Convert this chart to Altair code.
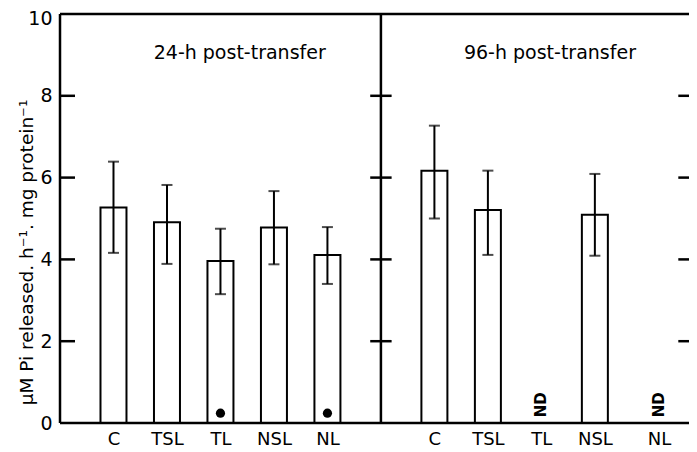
import altair as alt
import pandas as pd

# ---- data ----
categories = ["C", "TSL", "TL", "NSL", "NL"]
panels = ["24-h post-transfer", "96-h post-transfer"]
pos_24 = [1, 2, 3, 4, 5]
pos_96 = [7, 8, 9, 10, 11.2]
mean_24 = [5.27, 4.91, 3.96, 4.78, 4.11]
low_24 = [4.16, 3.89, 3.15, 3.88, 3.40]
high_24 = [6.39, 5.82, 4.75, 5.67, 4.79]
mean_96 = [6.17, 5.21, None, 5.09, None]
low_96 = [5.00, 4.11, None, 4.09, None]
high_96 = [7.27, 6.17, None, 6.09, None]
sig_24 = [False, False, True, False, True]     # filled dot marker
nd_96 = [False, False, True, False, True]      # not determined
y_ticks = [0, 2, 4, 6, 8, 10]

FONT = "DejaVu Sans"
XMAX = 11.76
HALF = 0.243

rows = []
for i, c in enumerate(categories):
    rows.append(dict(panel=panels[0], cat=c, pos=pos_24[i], v=mean_24[i],
                     lo=low_24[i], hi=high_24[i], dot=sig_24[i], nd=False))
    rows.append(dict(panel=panels[1], cat=c, pos=pos_96[i], v=mean_96[i],
                     lo=low_96[i], hi=high_96[i], dot=False, nd=nd_96[i]))
df = pd.DataFrame(rows)
df["x1"] = df["pos"] - HALF
df["x2"] = df["pos"] + HALF
bars = df.dropna(subset=["v"])

xs = alt.Scale(domain=[0, XMAX], nice=False, zero=False)
ys = alt.Scale(domain=[0, 10], nice=False)

label_map = "{" + ",".join(f"'{p}':'{c}'" for p, c in
                           list(zip(pos_24, categories)) + list(zip(pos_96, categories))) + "}"

x_axis = alt.Axis(values=pos_24 + pos_96, labelExpr=f"{label_map}[datum.value]",
                  title=None, grid=False, ticks=False, domain=False,
                  labelFont=FONT, labelFontSize=18, labelColor="black",
                  labelPadding=7, labelFlush=False, labelOverlap=False)
y_axis = alt.Axis(values=y_ticks, grid=False, ticks=False, domain=False,
                  labelFont=FONT, labelFontSize=19, labelColor="black", labelPadding=8,
                  labelOffset=alt.condition("datum.value == 10", alt.value(4), alt.value(0)),
                  title="μM Pi released. h⁻¹. mg protein⁻¹", titleFont=FONT,
                  titleFontSize=18.5, titleFontWeight="normal", titleColor="black",
                  titleX=-34, titleY=238, titleAngle=270, titleAlign="center",
                  titleBaseline="middle")

base = alt.Chart(bars)

bar_layer = base.mark_bar(fill="white", stroke="black", strokeWidth=2).encode(
    x=alt.X("x1:Q", scale=xs, axis=x_axis), x2="x2:Q",
    y=alt.Y("v:Q", scale=ys, axis=y_axis), y2=alt.datum(0))

err_layer = base.mark_rule(color="black", strokeWidth=2).encode(
    x="pos:Q", y="lo:Q", y2="hi:Q")
cap_hi = base.mark_tick(color="black", orient="horizontal", size=11, thickness=2).encode(
    x="pos:Q", y="hi:Q")
cap_lo = base.mark_tick(color="black", orient="horizontal", size=11, thickness=2).encode(
    x="pos:Q", y="lo:Q")

dots = alt.Chart(df[df["dot"]]).mark_point(shape="circle", filled=True, color="black",
                                           opacity=1, size=85).encode(
    x="pos:Q", y=alt.datum(0.24))

nd = alt.Chart(df[df["nd"]]).mark_text(text="ND", angle=270, align="left", baseline="middle",
                                       font=FONT, fontSize=15, fontWeight="bold",
                                       color="black").encode(
    x="pos:Q", y=alt.datum(0.14))

titles_df = pd.DataFrame({"t": panels, "x": [3.36, 9.16], "y": [9.05, 9.05]})
titles = alt.Chart(titles_df).mark_text(font=FONT, fontSize=19, color="black").encode(
    x="x:Q", y="y:Q", text="t:N")

frame_df = pd.DataFrame({"x": [0, 0, 0, 6], "x2": [0, XMAX, XMAX, 6],
                         "y": [0, 10, 0, 0], "y2": [10, 10, 0, 10]})
frame = alt.Chart(frame_df).mark_rule(color="black", strokeWidth=2.5).encode(
    x="x:Q", x2="x2:Q", y="y:Q", y2="y2:Q")

tick_rows = []
for t in y_ticks[1:-1]:
    tick_rows += [dict(y=t, a=0, b=0.28), dict(y=t, a=5.8, b=6.2), dict(y=t, a=XMAX - 0.2, b=XMAX)]
tick_df = pd.DataFrame(tick_rows)
ticks = alt.Chart(tick_df).mark_rule(color="black", strokeWidth=2.5).encode(
    x="a:Q", x2="b:Q", y="y:Q")

chart = alt.layer(bar_layer, err_layer, cap_hi, cap_lo, dots, nd, titles, frame, ticks).properties(
    width=629, height=409,
    autosize=alt.AutoSizeParams(type="none"),
    padding={"left": 52, "top": 6, "right": 0, "bottom": 26},
).configure_view(stroke=None).configure(background="white")

chart.save("out.html", embed_options={"renderer": "svg", "actions": False})
